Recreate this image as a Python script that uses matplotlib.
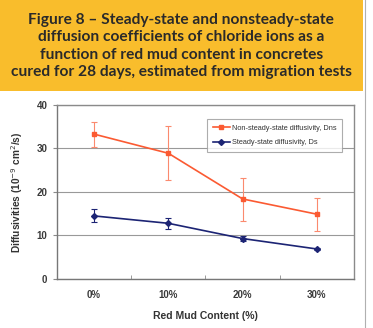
import matplotlib.pyplot as plt
from matplotlib.patches import Rectangle
from matplotlib.lines import Line2D
import numpy as np

# Data
categories = ['0%', '10%', '20%', '30%']
dns = [33.3, 28.9, 18.4, 14.9]
dns_hi = [36.0, 35.2, 23.3, 18.7]
dns_lo = [30.4, 22.8, 13.3, 11.0]
ds = [14.5, 12.8, 9.3, 6.9]
ds_hi = [16.0, 14.0, 9.8, 7.1]
ds_lo = [13.1, 11.5, 8.8, 6.7]

title_lines = [
    'Figure 8 \u2013 Steady-state and nonsteady-state',
    'diffusion coefficients of chloride ions as a',
    'function of red mud content in concretes',
    'cured for 28 days, estimated from migration tests',
]

orange = '#fb5a32'
navy = '#1c2474'
yellow = '#f9bd2c'
grey = '#8a8a8a'

fig = plt.figure(figsize=(3.73, 3.28), dpi=100)

# title banner
fig.patches.append(Rectangle((0, 0.7226), 0.973, 0.2774, transform=fig.transFigure,
                             facecolor=yellow, edgecolor='none', zorder=0))
fig.add_artist(Line2D([0.979, 0.979], [0, 1], transform=fig.transFigure,
                      color='#b0b0b0', lw=0.8))
fig.text(0.486, 0.86, '\n'.join(title_lines), ha='center', va='center',
         fontsize=11.2, fontweight='bold', family='Lato', color='#2a2a2a',
         linespacing=1.3)

ax = fig.add_axes([0.1528, 0.1494, 0.7962, 0.5305])
x = np.arange(len(categories)) + 0.5

ax.errorbar(x, dns, yerr=[np.array(dns) - np.array(dns_lo), np.array(dns_hi) - np.array(dns)],
            fmt='none', ecolor='#fb8a6e', elinewidth=0.8, capsize=2.5, capthick=0.8, zorder=3)
ax.errorbar(x, ds, yerr=[np.array(ds) - np.array(ds_lo), np.array(ds_hi) - np.array(ds)],
            fmt='none', ecolor=navy, elinewidth=0.8, capsize=2.5, capthick=0.8, zorder=3)
ax.plot(x, dns, color=orange, lw=1.2, marker='s', ms=3.5, zorder=4,
        label='Non-steady-state diffusivity, Dns')
ax.plot(x, ds, color=navy, lw=1.2, marker='D', ms=3, zorder=4,
        label='Steady-state diffusivity, Ds')

ax.set_xlim(0, 4)
ax.set_ylim(0, 40)
ax.set_yticks([0, 10, 20, 30, 40])
ax.set_xticks(x)
ax.set_xticklabels(categories)
ax.set_xticks([1, 2, 3], minor=True)
ax.tick_params(axis='x', which='major', length=0, pad=8)
ax.tick_params(axis='x', which='minor', length=3, direction='in', color=grey)
ax.tick_params(axis='y', length=3, direction='out', color=grey, pad=4)
for lab in ax.get_xticklabels() + ax.get_yticklabels():
    lab.set_fontsize(7)
    lab.set_fontweight('bold')
    lab.set_family('Liberation Sans')
    lab.set_color('#3a3a3a')

ax.grid(axis='y', color='#999999', lw=0.8)
ax.set_axisbelow(True)
for s in ax.spines.values():
    s.set_color(grey)
    s.set_linewidth(1.0)
ax.spines['left'].set_color('#777777')
ax.spines['bottom'].set_color('#777777')

ax.set_ylabel('Diffusivities (10$^{-9}$ cm$^{2}$/s)', fontsize=7.3, fontweight='bold',
              family='Liberation Sans', color='#333333', labelpad=8)
ax.set_xlabel('Red Mud Content (%)', fontsize=7.5, fontweight='bold',
              family='Liberation Sans', color='#333333', labelpad=8)

leg = ax.legend(loc='upper right', bbox_to_anchor=(0.973, 0.943), fontsize=5.3,
                frameon=True, fancybox=False, edgecolor='#999999', handlelength=2.2,
                borderpad=0.8, labelspacing=1.0, handletextpad=0.3)
leg.get_frame().set_linewidth(0.8)
for t in leg.get_texts():
    t.set_family('Liberation Sans')
    t.set_color('#333333')

fig.savefig('out.png', dpi=100)
